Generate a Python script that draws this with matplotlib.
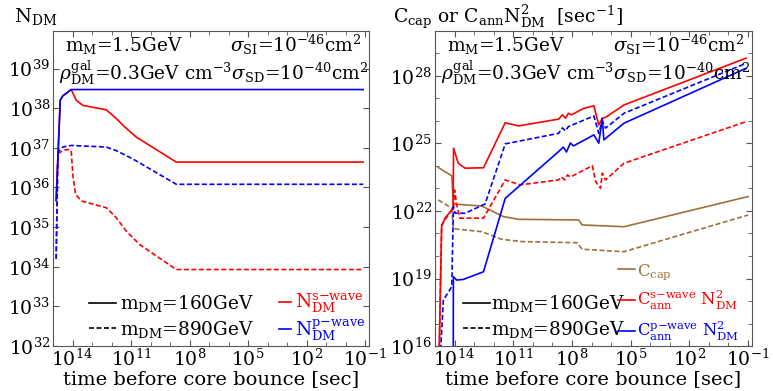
import numpy as np
import matplotlib
matplotlib.use("Agg")
import matplotlib.pyplot as plt
from matplotlib.lines import Line2D
from matplotlib.ticker import NullFormatter

plt.rcParams['font.family'] = 'DejaVu Serif'
plt.rcParams['mathtext.fontset'] = 'dejavuserif'

# ---- left panel: N_DM (log10 values) ----
t_solid_N = [14.84, 14.63, 14.5, 14.07, 13.81, 13.47, 12.27, 11.76, 11.33, 10.73, 8.68, -0.9]
N_s_160 = [35.67, 38.2, 38.31, 38.47, 38.20, 38.07, 37.96, 37.74, 37.53, 37.27, 36.64, 36.64]
t_blue_N = [14.84, 14.63, 14.5, 14.07, -0.9]
N_p_160 = [35.67, 38.2, 38.31, 38.47, 38.47]

t_p_890 = [14.84, 14.75, 14.5, 14.07, 12.27, 11.76, 10.91, 8.68, -0.9]
N_p_890 = [34.2, 36.89, 37.02, 37.06, 37.02, 36.93, 36.72, 36.08, 36.08]
t_s_890 = [14.84, 14.75, 14.5, 14.24, 14.07, 13.98, 13.85, 13.55, 12.27, 11.76, 11.25, 10.56, 8.68, -0.9]
N_s_890 = [34.2, 36.85, 36.93, 36.96, 36.93, 36.3, 35.83, 35.66, 35.49, 35.24, 34.9, 34.56, 33.93, 33.93]

# ---- right panel: rates (log10 values) ----
t_cap = [14.83, 14.14, 14.06, 12.61, 11.5, 10.73, 7.65, 7.48, 5.34, -1.0]
cap_160 = [23.93, 23.56, 22.31, 22.22, 21.75, 21.63, 21.6, 21.38, 21.3, 22.64]
t_cap2 = [14.83, 14.14, 14.06, 12.61, 11.58, 10.55, 7.73, 7.48, 5.34, -1.0]
cap_890 = [22.49, 22.12, 21.21, 21.08, 20.74, 20.64, 20.59, 20.3, 20.19, 21.82]

t_as160 = [14.80, 14.66, 14.49, 14.07, 14.05, 13.81, 13.46, 12.52, 11.41, 10.73, 8.68, 8.49,
           8.33, 8.18, 8.03, 7.39, 6.88, 6.63, 6.45, 6.28, 5.34, -0.9]
ann_s_160 = [15.0, 21.30, 21.68, 22.12, 24.79, 24.12, 23.90, 23.92, 25.92, 25.78, 26.08, 26.27,
             26.12, 26.34, 26.27, 26.56, 26.67, 25.82, 26.12, 26.16, 26.71, 28.79]
t_as890 = [14.80, 14.66, 14.32, 14.06, 14.0, 13.89, 13.72, 12.52, 11.41, 10.64, 8.68, 8.54,
           8.38, 8.23, 8.08, 6.96, 6.79, 6.54, 6.45, 6.28, 5.34, -0.9]
ann_s_890 = [15.0, 21.38, 21.82, 22.12, 22.93, 22.27, 21.68, 21.68, 23.38, 23.16, 23.38, 23.51,
             23.38, 23.6, 23.51, 24.01, 23.30, 23.01, 23.68, 23.38, 24.12, 25.97]
t_ap160 = [14.065, 14.06, 13.89, 13.55, 12.52, 11.41, 8.68, 8.44, 8.28, 8.08, 7.92, 6.88,
           6.63, 6.45, 6.37, 5.34, -0.9]
ann_p_160 = [15.0, 19.08, 18.93, 18.96, 19.30, 22.56, 24.64, 24.84, 24.62, 25.02, 24.89, 25.38,
             25.01, 26.12, 25.16, 25.90, 28.34]
t_ap890 = [14.73, 14.57, 14.14, 14.06, 13.97, 13.46, 12.44, 11.41, 8.68, 8.49, 8.33, 8.18,
           6.88, 6.63, 6.45, 6.28, 5.34, -0.9]
ann_p_890 = [15.5, 18.04, 18.64, 22.19, 21.90, 21.90, 22.31, 24.98, 25.45, 25.69, 25.56, 25.75,
             26.22, 25.45, 26.0, 25.68, 26.34, 28.56]

red = '#ff0000'
blue = '#0000ff'
brown = '#a0703c'
dash = (0, (3, 1.5))
lw = 1.2
fs = 13.3

fig = plt.figure(figsize=(7.73, 3.91), dpi=100)
ax1 = fig.add_axes([0.0686, 0.115, 0.4088, 0.806])
ax2 = fig.add_axes([0.5627, 0.115, 0.4101, 0.806])

def p(a):
    return 10.0 ** np.array(a)

ax1.plot(p(t_solid_N), p(N_s_160), color=red, lw=lw)
ax1.plot(p(t_s_890), p(N_s_890), color=red, lw=lw, ls=dash)
ax1.plot(p(t_blue_N), p(N_p_160), color=blue, lw=lw)
ax1.plot(p(t_p_890), p(N_p_890), color=blue, lw=lw, ls=dash)

ax2.plot(p(t_cap), p(cap_160), color=brown, lw=lw)
ax2.plot(p(t_cap2), p(cap_890), color=brown, lw=lw, ls=dash)
ax2.plot(p(t_as160), p(ann_s_160), color=red, lw=lw)
ax2.plot(p(t_as890), p(ann_s_890), color=red, lw=lw, ls=dash)
ax2.plot(p(t_ap160), p(ann_p_160), color=blue, lw=lw)
ax2.plot(p(t_ap890), p(ann_p_890), color=blue, lw=lw, ls=dash)

for ax in (ax1, ax2):
    ax.set_xscale('log')
    ax.set_yscale('log')
    ax.set_xlim(1e15, 10 ** -1.2)
    ax.set_xticks(10.0 ** np.arange(14, -2, -3))
    ax.set_xticks(10.0 ** np.arange(-1, 15), minor=True)
    ax.xaxis.set_minor_formatter(NullFormatter())
    ax.tick_params(which='both', direction='in', top=True, right=True,
                   labelsize=13.5, color='#555555', length=4)
    ax.tick_params(axis='x', pad=2)
    ax.tick_params(axis='y', pad=2)
    ax.tick_params(which='minor', length=3)
    for s in ax.spines.values():
        s.set_color('#555555')
    ax.set_xlabel('time before core bounce [sec]', fontsize=14, labelpad=0)

ax1.set_ylim(1e32, 10 ** 39.95)
ax1.set_yticks(10.0 ** np.arange(32, 40))
ax1.yaxis.set_minor_formatter(NullFormatter())
ax1.set_yticks([], minor=True)

ax2.set_ylim(1e16, 1e30)
ax2.set_yticks(10.0 ** np.arange(16, 29, 3))
ax2.set_yticks(10.0 ** np.arange(16, 31), minor=True)
ax2.yaxis.set_minor_formatter(NullFormatter())

t1 = r'$\mathrm{m_M}$=1.5GeV'
t2 = r'$\sigma_{\mathrm{SI}}$=10$^{-46}$cm$^2$'
t3 = r'$\rho_{\mathrm{DM}}^{\mathrm{gal}}$=0.3GeV cm$^{-3}$$\sigma_{\mathrm{SD}}$=10$^{-40}$cm$^2$'
for ax in (ax1, ax2):
    ax.text(0.038, 0.955, t1, transform=ax.transAxes, fontsize=fs, va='center', ha='left')
    ax.text(0.975, 0.955, t2, transform=ax.transAxes, fontsize=fs, va='center', ha='right')
    ax.text(0.018, 0.865, t3, transform=ax.transAxes, fontsize=fs, va='center', ha='left')

fig.text(0.018, 0.958, r'$\mathrm{N_{DM}}$', fontsize=14, va='center', ha='left')
fig.text(0.509, 0.957, r'$\mathrm{C_{cap}}$ or $\mathrm{C_{ann}N_{DM}^2}$  [sec$^{-1}$]',
         fontsize=13.5, va='center', ha='left')

# legends
mass_handles = [Line2D([], [], color='black', lw=lw), Line2D([], [], color='black', lw=lw, ls=dash)]
mass_labels = [r'$\mathrm{m_{DM}}$=160GeV', r'$\mathrm{m_{DM}}$=890GeV']

leg1 = ax1.legend(mass_handles, mass_labels, loc='lower left', bbox_to_anchor=(0.115, 0.02),
                  frameon=False, fontsize=fs, handlelength=1.45, handletextpad=0.2,
                  borderpad=0, borderaxespad=0, labelspacing=0.25)
ax1.add_artist(leg1)
ax1.legend([Line2D([], [], color=red, lw=lw), Line2D([], [], color=blue, lw=lw)],
           [r'$\mathrm{N}_{\mathrm{DM}}^{\mathrm{s{-}wave}}$', r'$\mathrm{N}_{\mathrm{DM}}^{\mathrm{p{-}wave}}$'],
           labelcolor=[red, blue], loc='lower left', bbox_to_anchor=(0.715, 0.01),
           frameon=False, fontsize=fs, handlelength=0.65, handletextpad=0.2,
           borderpad=0, borderaxespad=0, labelspacing=0.1)

leg2 = ax2.legend(mass_handles, mass_labels, loc='lower left', bbox_to_anchor=(0.088, 0.02),
                  frameon=False, fontsize=fs, handlelength=1.45, handletextpad=0.1,
                  borderpad=0, borderaxespad=0, labelspacing=0.25)
ax2.add_artist(leg2)
ax2.legend([Line2D([], [], color=brown, lw=lw), Line2D([], [], color=red, lw=lw),
            Line2D([], [], color=blue, lw=lw)],
           [r'$\mathrm{C}_{\mathrm{cap}}$',
            r'$\mathrm{C}_{\mathrm{ann}}^{\mathrm{s{-}wave}}\ \mathrm{N}_{\mathrm{DM}}^2$',
            r'$\mathrm{C}_{\mathrm{ann}}^{\mathrm{p{-}wave}}\ \mathrm{N}_{\mathrm{DM}}^2$'],
           labelcolor=[brown, red, blue], loc='lower left', bbox_to_anchor=(0.578, 0.01),
           frameon=False, fontsize=11.8, handlelength=1.0, handletextpad=0.15,
           borderpad=0, borderaxespad=0, labelspacing=0.45)

fig.savefig('out.png', dpi=100)
